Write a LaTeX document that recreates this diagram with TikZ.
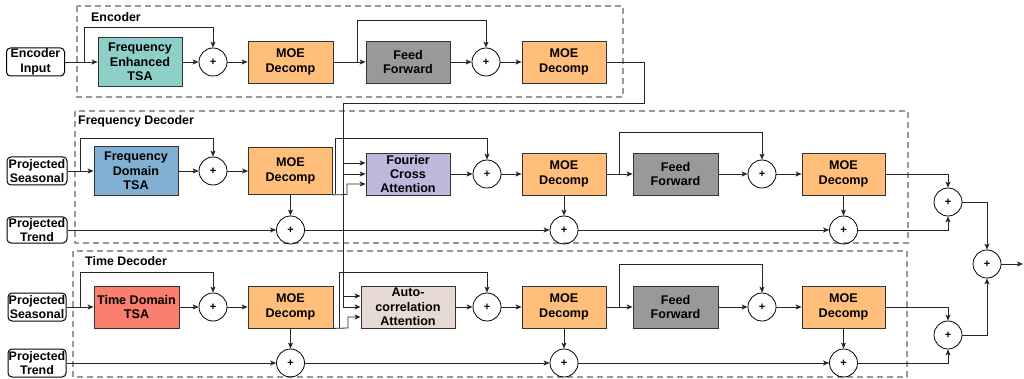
\documentclass[tikz,border=0pt]{standalone}
\usepackage{fontspec}
\setmainfont{Liberation Sans}
\usetikzlibrary{arrows.meta}
\definecolor{cFE}{HTML}{8ECFC9}
\definecolor{cMOE}{HTML}{FFBE7A}
\definecolor{cTT}{HTML}{FA7F6F}
\definecolor{cFD}{HTML}{82B0D2}
\definecolor{cFCA}{HTML}{BEB8DC}
\definecolor{cAC}{HTML}{E7DAD2}
\definecolor{cFF}{HTML}{999999}
\begin{document}
\begin{tikzpicture}[x=1pt,y=-1pt,
  line/.style={draw=black!85, line width=0.8pt},
  arr/.style={line, -{Stealth[length=6pt,width=5pt,inset=1.5pt]}},
  blk/.style={draw=black!80, line width=0.8pt, align=center, font=\bfseries\fontsize{12.6}{14.4}\selectfont, inner sep=1pt, minimum width=84pt, minimum height=42pt},
  io/.style={draw=black, line width=1pt, rounded corners=4pt, align=center, font=\bfseries\fontsize{12.4}{14.6}\selectfont, inner sep=0.5pt, minimum width=58pt, minimum height=28pt},
  sum/.style={circle, draw=black, line width=0.8pt, minimum size=28pt, inner sep=0pt, font=\bfseries\fontsize{11}{12}\selectfont},
  grp/.style={draw=black!40, line width=1.6pt, dash pattern=on 6pt off 4pt},
  lbl/.style={anchor=west, font=\bfseries\fontsize{12.4}{14}\selectfont, inner sep=0pt}
]
\useasboundingbox (0,0) rectangle (1024,379);

% group boxes
\draw[grp] (77,6) rectangle (623,97);
\draw[grp] (75,111) rectangle (908,243);
\draw[grp] (73,251) rectangle (907,377);
\node[lbl] (lenc) at (91,17) {Encoder};
\node[lbl] (lfd) at (78,121) {Frequency Decoder};
\node[lbl] (ltd) at (85,261) {Time Decoder};

% ===== Encoder =====
\node[io] (encin) at (35.5,62) {Encoder\\Input};
\node[blk, fill=cFE, minimum height=49pt] (fetsa) at (140,62) {Frequency\\Enhanced\\TSA};
\node[sum] (esum1) at (213,62) {+};
\node[blk, fill=cMOE, minimum width=85pt] (emoe1) at (290.5,62) {MOE\\Decomp};
\node[blk, fill=cFF] (eff) at (408,62) {Feed\\Forward};
\node[sum] (esum2) at (486,62) {+};
\node[blk, fill=cMOE] (emoe2) at (564,62) {MOE\\Decomp};

% ===== Frequency decoder =====
\node[io, minimum width=60pt] (fseas) at (37,171) {Projected\\Seasonal};
\node[io, minimum width=60pt, minimum height=26pt] (ftrend) at (37,230) {Projected\\Trend};
\node[blk, fill=cFD, minimum height=49pt] (fdtsa) at (136,171) {Frequency\\Domain\\TSA};
\node[sum] (fsum1) at (213,171) {+};
\node[blk, fill=cMOE, minimum height=47pt] (fmoe1) at (290.5,171) {MOE\\Decomp};
\node[sum] (ftsum1) at (290.5,230) {+};
\node[blk, fill=cFCA] (fca) at (408,174) {Fourier\\Cross\\Attention};
\node[sum] (fsum2) at (487,174) {+};
\node[blk, fill=cMOE] (fmoe2) at (564,174) {MOE\\Decomp};
\node[sum] (ftsum2) at (564,230) {+};
\node[blk, fill=cFF, minimum width=85pt] (fff) at (675.5,174) {Feed\\Forward};
\node[sum] (fsum3) at (762,174) {+};
\node[blk, fill=cMOE, minimum width=83pt] (fmoe3) at (843.5,174) {MOE\\Decomp};
\node[sum] (ftsum3) at (843.5,230) {+};
\node[sum] (fout) at (948,202) {+};

% ===== Time decoder =====
\node[io] (tseas) at (37,307) {Projected\\Seasonal};
\node[io] (ttrend) at (37,363) {Projected\\Trend};
\node[blk, fill=cTT, minimum width=85pt] (ttsa) at (136.5,307) {Time Domain\\TSA};
\node[sum] (tsum1) at (213,307) {+};
\node[blk, fill=cMOE, minimum width=85pt] (tmoe1) at (290.5,307) {MOE\\Decomp};
\node[sum] (ttsum1) at (290.5,363) {+};
\node[blk, fill=cAC, minimum width=94pt] (ac) at (408,307) {Auto-\\correlation\\Attention};
\node[sum] (tsum2) at (487,307) {+};
\node[blk, fill=cMOE] (tmoe2) at (564,307) {MOE\\Decomp};
\node[sum] (ttsum2) at (564,363) {+};
\node[blk, fill=cFF, minimum width=85pt] (tff) at (675.5,307) {Feed\\Forward};
\node[sum] (tsum3) at (762,307) {+};
\node[blk, fill=cMOE, minimum width=83pt] (tmoe3) at (843.5,307) {MOE\\Decomp};
\node[sum] (ttsum3) at (843.5,363) {+};
\node[sum] (tout) at (948,335) {+};

\node[sum] (final) at (987,264) {+};
\coordinate (outend) at (1023,264);

% ===== Encoder connectors =====
\draw[arr] (encin.east) -- (fetsa.west);
\draw[arr] (84,62) -- (84,27) -| (esum1.north);
\draw[arr] (fetsa.east) -- (esum1.west);
\draw[arr] (esum1.east) -- (emoe1.west);
\draw[arr] (emoe1.east) -- (eff.west);
\draw[arr] (357,62) -- (357,20) -| (esum2.north);
\draw[arr] (eff.east) -- (esum2.west);
\draw[arr] (esum2.east) -- (emoe2.west);
\coordinate (encbus) at (343,103);
\draw[line] (emoe2.east) -| (644,103) -- (encbus);
\draw[arr] (encbus) |- (ac.west);
\draw[arr] (343,296) -- (ac.west |- 0,296);
\draw[arr] (343,163) -- (fca.west |- 0,163);
\draw[arr] (343,174) -- (fca.west);

% ===== Frequency decoder connectors =====
\draw[arr] (fseas.east) -- (fdtsa.west);
\draw[arr] (80,171) -- (80,138) -| (fsum1.north);
\draw[arr] (fdtsa.east) -- (fsum1.west);
\draw[arr] (fsum1.east) -- (fmoe1.west);
\draw[arr] (fmoe1.south) -- (ftsum1.north);
\draw[arr] (ftrend.east) -- (ftsum1.west);
\draw[arr] (fmoe1.south east) -- (347,194.5) -- (347,184) -- (fca.west |- 0,184);
\draw[arr] (335,194.5) -- (335,138) -| (fsum2.north);
\draw[arr] (fca.east) -- (fsum2.west);
\draw[arr] (fsum2.east) -- (fmoe2.west);
\draw[arr] (fmoe2.south) -- (ftsum2.north);
\draw[arr] (ftsum1.east) -- (ftsum2.west);
\draw[arr] (fmoe2.east) -- (fff.west);
\draw[arr] (619,174) -- (619,132) -| (fsum3.north);
\draw[arr] (fff.east) -- (fsum3.west);
\draw[arr] (fsum3.east) -- (fmoe3.west);
\draw[arr] (fmoe3.south) -- (ftsum3.north);
\draw[arr] (ftsum2.east) -- (ftsum3.west);
\draw[arr] (fmoe3.east) -| (fout.north);
\draw[arr] (ftsum3.east) -| (fout.south);
\draw[arr] (fout.east) -| (final.north);

% ===== Time decoder connectors =====
\draw[arr] (tseas.east) -- (ttsa.west);
\draw[arr] (80,307) -- (80,272) -| (tsum1.north);
\draw[arr] (ttsa.east) -- (tsum1.west);
\draw[arr] (tsum1.east) -- (tmoe1.west);
\draw[arr] (tmoe1.south) -- (ttsum1.north);
\draw[arr] (ttrend.east) -- (ttsum1.west);
\draw[arr] (tmoe1.south east) -- (348,328) -- (348,317) -- (ac.west |- 0,317);
\draw[arr] (339,328) -- (339,272) -| (tsum2.north);
\draw[arr] (ac.east) -- (tsum2.west);
\draw[arr] (tsum2.east) -- (tmoe2.west);
\draw[arr] (tmoe2.south) -- (ttsum2.north);
\draw[arr] (ttsum1.east) -- (ttsum2.west);
\draw[arr] (tmoe2.east) -- (tff.west);
\draw[arr] (619,307) -- (619,264) -| (tsum3.north);
\draw[arr] (tff.east) -- (tsum3.west);
\draw[arr] (tsum3.east) -- (tmoe3.west);
\draw[arr] (tmoe3.south) -- (ttsum3.north);
\draw[arr] (ttsum2.east) -- (ttsum3.west);
\draw[arr] (tmoe3.east) -| (tout.north);
\draw[arr] (ttsum3.east) -| (tout.south);
\draw[arr] (tout.east) -| (final.south);
\draw[arr] (final.east) -- (outend);
\end{tikzpicture}
\end{document}
